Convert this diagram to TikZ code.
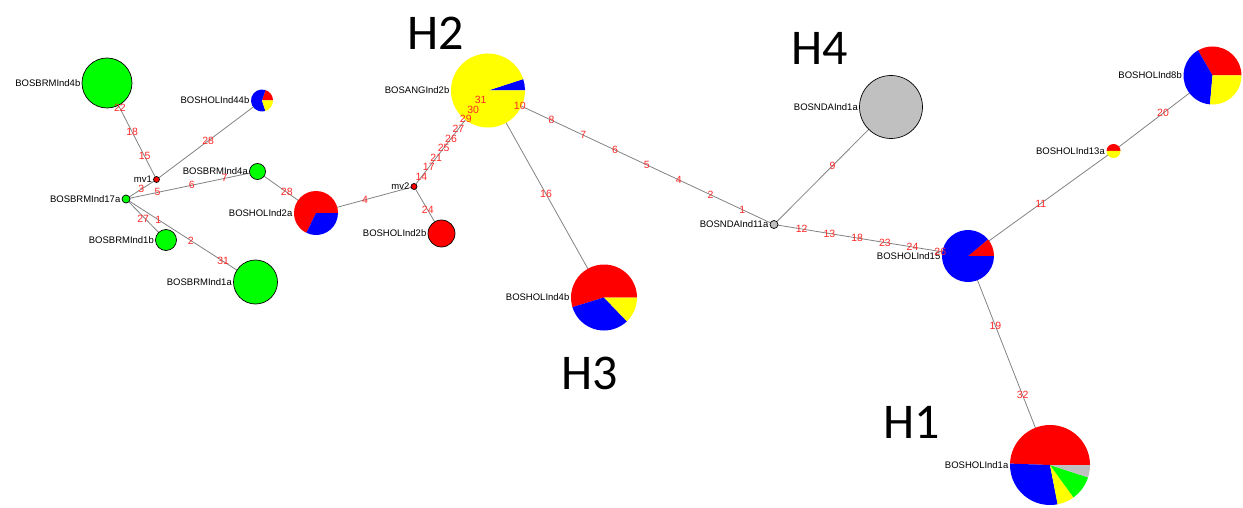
\documentclass[tikz,border=0pt]{standalone}
\usepackage{fontspec}
\setmainfont{Liberation Sans}
\newfontfamily\hfont{Carlito}
\usetikzlibrary{backgrounds}
\definecolor{linegray}{RGB}{130,130,130}
\definecolor{hgray}{RGB}{192,192,192}
\definecolor{hgreen}{RGB}{0,255,0}
\definecolor{hblue}{RGB}{0,0,255}
\definecolor{hred}{RGB}{255,0,0}
\definecolor{hyellow}{RGB}{255,255,0}
\definecolor{mutred}{RGB}{255,40,40}
% pie slices inside a haplotype node: start/end/colour, angles counter-clockwise from east
\newcommand\piefill[3]{%
  \foreach \pa/\pb/\pc in {#3}{%
    \fill[\pc] (#1.center) -- ++(-\pa:#2) arc[start angle=-\pa, end angle=-\pb, radius=#2] -- cycle;}}
\begin{document}
\begin{tikzpicture}[x=1pt,y=-1pt,
  hap/.style={circle, inner sep=0pt, outer sep=0pt, minimum size=#1},
  disk/.style={draw=black, line width=0.7pt},
  lbl/.style={font=\fontsize{9.5}{10}\selectfont, text=black, inner sep=1.5pt},
  mut/.style={font=\fontsize{10.5}{11}\selectfont, text=mutred, inner sep=0pt},
  link/.style={draw=linegray, line width=0.8pt},
  big/.style={font=\hfont\fontsize{50}{50}\selectfont, inner sep=0pt}
]
\useasboundingbox (0,0) rectangle (1243,508);

% ---- haplotype nodes ----
\node[hap=50pt, disk, fill=hgreen, label={[lbl]left:BOSBRMInd4b}] (BRM4b) at (107,83) {};
\node[hap=6pt, disk, fill=hred, label={[lbl]left:mv1}] (mvA) at (156.5,179.5) {};
\node[hap=8pt, disk, fill=hgreen, label={[lbl]left:BOSBRMInd17a}] (BRM17a) at (126,199) {};
\node[hap=16pt, disk, fill=hgreen, label={[lbl]left:BOSBRMInd4a}] (BRM4a) at (257.5,171.5) {};
\node[hap=22pt, label={[lbl]left:BOSHOLInd44b}] (HOL44b) at (262,100.5) {};
\piefill{HOL44b}{11}{0/72/hred, 72/288/hblue, 288/360/hyellow}
\node[hap=44pt, label={[lbl]left:BOSHOLInd2a}] (HOL2a) at (316,213) {};
\piefill{HOL2a}{22}{0/244/hred, 244/360/hblue}
\node[hap=6pt, disk, fill=hred, label={[lbl]left:mv2}] (mvB) at (414,186.5) {};
\node[hap=27pt, disk, fill=hred, label={[lbl]left:BOSHOLInd2b}] (HOL2b) at (441.5,233.5) {};
\node[hap=21pt, disk, fill=hgreen, label={[lbl]left:BOSBRMInd1b}] (BRM1b) at (166,240) {};
\node[hap=44pt, disk, fill=hgreen, label={[lbl]left:BOSBRMInd1a}] (BRM1a) at (255.5,282) {};
\node[hap=74pt, label={[lbl]left:BOSANGInd2b}] (ANG2b) at (488,90.5) {};
\piefill{ANG2b}{37}{0/18/hblue, 18/360/hyellow}
\node[hap=66pt, label={[lbl]left:BOSHOLInd4b}] (HOL4b) at (604,297.5) {};
\piefill{HOL4b}{33}{0/197/hred, 197/314/hblue, 314/360/hyellow}
\node[hap=8pt, disk, fill=hgray, label={[lbl]left:BOSNDAInd11a}] (NDA11a) at (774,224.5) {};
\node[hap=63pt, disk, fill=hgray, label={[lbl]left:BOSNDAInd1a}] (NDA1a) at (891,107) {};
\node[hap=52pt, label={[lbl]left:BOSHOLInd15}] (HOL15) at (968,256) {};
\piefill{HOL15}{26}{0/40/hred, 40/360/hblue}
\node[hap=14pt, label={[lbl]left:BOSHOLInd13a}] (HOL13a) at (1113.5,151) {};
\piefill{HOL13a}{7}{0/180/hred, 180/360/hyellow}
\node[hap=58pt, label={[lbl]left:BOSHOLInd8b}] (HOL8b) at (1212.5,75.5) {};
\piefill{HOL8b}{29}{0/120/hred, 120/265/hblue, 265/360/hyellow}
\node[hap=80pt, label={[lbl]left:BOSHOLInd1a}] (HOL1a) at (1050,465) {};
\piefill{HOL1a}{40}{0/178/hred, 178/281/hblue, 281/306/hyellow, 306/342/hgreen, 342/360/hgray}

% ---- connectors ----
\begin{scope}[on background layer]
\draw[link] (BRM4b.center) -- (mvA.center);
\draw[link] (mvA.center) -- (BRM17a.center);
\draw[link] (mvA.center) -- (HOL44b.center);
\draw[link] (BRM17a.center) -- (BRM4a.center);
\draw[link] (BRM4a.center) -- (HOL2a.center);
\draw[link] (HOL2a.center) -- (mvB.center);
\draw[link] (mvB.center) -- (HOL2b.center);
\draw[link] (mvB.center) -- (ANG2b.center);
\draw[link] (BRM17a.center) -- (BRM1b.center);
\draw[link] (BRM17a.center) -- (BRM1a.center);
\draw[link] (ANG2b.center) -- (NDA11a.center);
\draw[link] (ANG2b.center) -- (HOL4b.center);
\draw[link] (NDA11a.center) -- (NDA1a.center);
\draw[link] (NDA11a.center) -- (HOL15.center);
\draw[link] (HOL15.center) -- (HOL13a.center);
\draw[link] (HOL13a.center) -- (HOL8b.center);
\draw[link] (HOL15.center) -- (HOL1a.center);
\end{scope}

% ---- mutation labels ----
\path (BRM4b.center) -- (mvA.center)
  node[mut,pos=.26]{22} node[mut,pos=.51]{18} node[mut,pos=.76]{15};
\path (mvA.center) -- (BRM17a.center) node[mut,pos=.5]{3};
\path (mvA.center) -- (HOL44b.center) node[mut,pos=.49]{28};
\path (BRM17a.center) -- (BRM4a.center)
  node[mut,pos=.24]{5} node[mut,pos=.5]{6} node[mut,pos=.75]{7};
\path (BRM4a.center) -- (HOL2a.center) node[mut,pos=.5]{28};
\path (HOL2a.center) -- (mvB.center) node[mut,pos=.5]{4};
\path (mvB.center) -- (HOL2b.center) node[mut,pos=.5]{24};
\path (mvB.center) -- (ANG2b.center)
  node[mut,pos=.1]{14} node[mut,pos=.2]{17} node[mut,pos=.3]{21}
  node[mut,pos=.4]{25} node[mut,pos=.5]{26} node[mut,pos=.6]{27}
  node[mut,pos=.7]{29} node[mut,pos=.8]{30} node[mut,pos=.9]{31};
\path (BRM17a.center) -- (BRM1b.center) node[mut,pos=.48,xshift=-2pt]{27};
\path (BRM17a.center) -- (BRM1a.center)
  node[mut,pos=.25]{1} node[mut,pos=.5]{2} node[mut,pos=.75]{31};
\path (ANG2b.center) -- (NDA11a.center)
  node[mut,pos=1/9]{10} node[mut,pos=2/9]{8} node[mut,pos=3/9]{7}
  node[mut,pos=4/9]{6} node[mut,pos=5/9]{5} node[mut,pos=6/9]{4}
  node[mut,pos=7/9]{2} node[mut,pos=8/9]{1};
\path (ANG2b.center) -- (HOL4b.center) node[mut,pos=.5]{16};
\path (NDA11a.center) -- (NDA1a.center) node[mut,pos=.5]{9};
\path (NDA11a.center) -- (HOL15.center)
  node[mut,pos=1/7]{12} node[mut,pos=2/7]{13} node[mut,pos=3/7]{18}
  node[mut,pos=4/7]{23} node[mut,pos=5/7]{24} node[mut,pos=6/7]{26};
\path (HOL15.center) -- (HOL13a.center) node[mut,pos=.5]{11};
\path (HOL13a.center) -- (HOL8b.center) node[mut,pos=.5]{20};
\path (HOL15.center) -- (HOL1a.center)
  node[mut,pos=1/3]{19} node[mut,pos=2/3]{32};

% ---- group labels ----
\node[big] (H2) at (436,33) {H2};
\node[big] (H4) at (820,48) {H4};
\node[big] (H3) at (590,373) {H3};
\node[big] (H1) at (912,422) {H1};
\end{tikzpicture}
\end{document}
